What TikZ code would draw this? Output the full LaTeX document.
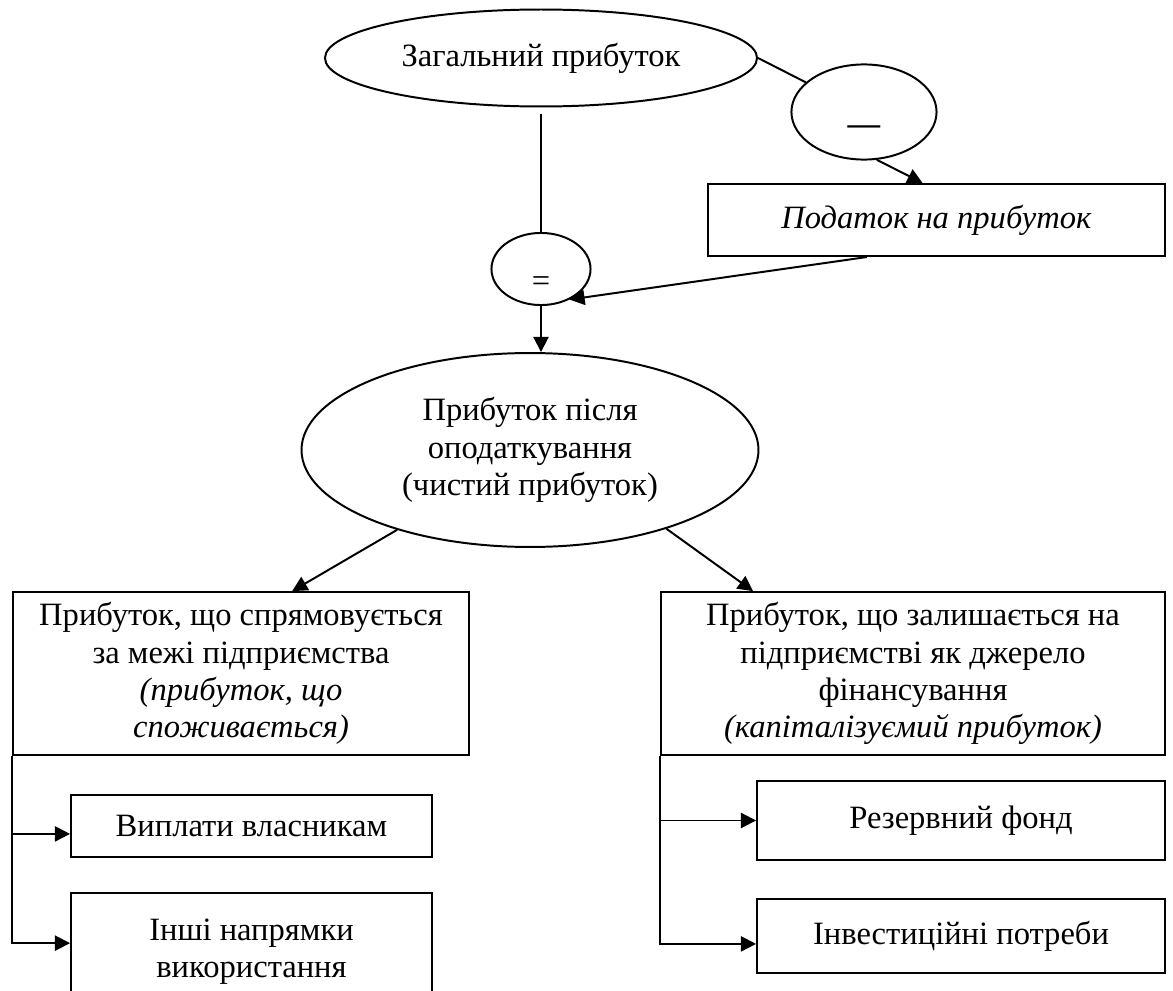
\documentclass[tikz,border=0pt]{standalone}
\usepackage{fontspec}
\setmainfont{Liberation Serif}
\usepackage{tikz}
\usetikzlibrary{shapes.geometric,arrows.meta}

\begin{document}
\begin{tikzpicture}[x=0.43pt,y=-0.43pt,
	font=\fontsize{14}{16}\selectfont,
	line width=0.85pt,
	oval/.style={draw,ellipse,inner sep=0},
	box/.style={draw,rectangle,inner sep=0,align=center},
	arr/.style={-{Triangle[length=6.5pt,width=6.5pt]}}]
	\useasboundingbox (0,0) rectangle (1173,991);
	\clip (0,0) rectangle (1173,991);
	\node[oval,minimum width=185.8pt,minimum height=41.7pt] (total) at (541,58) {Загальний прибуток}; %0
	\node[oval,minimum width=62.4pt,minimum height=40.9pt] (minus) at (864,112) {\smash{\raisebox{-9.6pt}{\textbf{—}}}}; %1
	\node[box,minimum width=196.5pt,minimum height=31pt] (tax) at (936.5,220) {\textit{Податок на прибуток}}; %2
	\node[oval,minimum width=42.6pt,minimum height=31pt] (eq) at (541,269) {\smash{\raisebox{-9.5pt}{=}}}; %3
	\node[oval,minimum width=196.5pt,minimum height=83.4pt,align=center] (net) at (530,450) {Прибуток після\\оподаткування\\(чистий прибуток)}; %4
	\node[box,minimum width=196pt,minimum height=70pt] (outflow) at (241,673.5) {Прибуток, що спрямовується\\за межі підприємства\\\textit{(прибуток, що}\\\textit{споживається)}}; %5
	\node[box,minimum width=216.7pt,minimum height=70pt] (retained) at (913,673.5) {Прибуток, що залишається на\\підприємстві як джерело\\фінансування\\\textit{(капіталізуємий прибуток)}}; %6
	\node[box,minimum width=155.2pt,minimum height=26.7pt] (pay) at (251.5,826) {Виплати власникам}; %7
	\node[box,minimum width=155.2pt,minimum height=50.3pt] (other) at (251.5,951.5) {Інші напрямки\\використання}; %8
	\node[box,minimum width=175.4pt,minimum height=34pt] (reserve) at (961,820.5) {Резервний фонд}; %9
	\node[box,minimum width=175.4pt,minimum height=31.8pt] (invest) at (961,936) {Інвестиційні потреби}; %10
	\draw[shorten <=3pt] (total) -- (eq);
	\draw (total.east) -- (minus);
	\draw[arr] (minus.-75) -- ([xshift=-6pt]tax.north);
	\draw[arr] ([xshift=-30pt]tax.south) -- (eq.-47);
	\draw[arr] (eq) -- (eq |- net.north);
	\draw[arr] (net.-149) -- ([xshift=22pt]outflow.north);
	\draw[arr] (net.-30) -- ([xshift=40pt]retained.north west);
	\draw[arr] (outflow.south west) |- ([yshift=-3.4pt]pay.west);
	\draw[arr] (outflow.south west) |- ([yshift=3.6pt]other.west);
	\draw[arr] (retained.south west) |- (reserve);
	\draw[arr] (retained.south west) |- ([yshift=-3.4pt]invest.west);
\end{tikzpicture}
\end{document}
